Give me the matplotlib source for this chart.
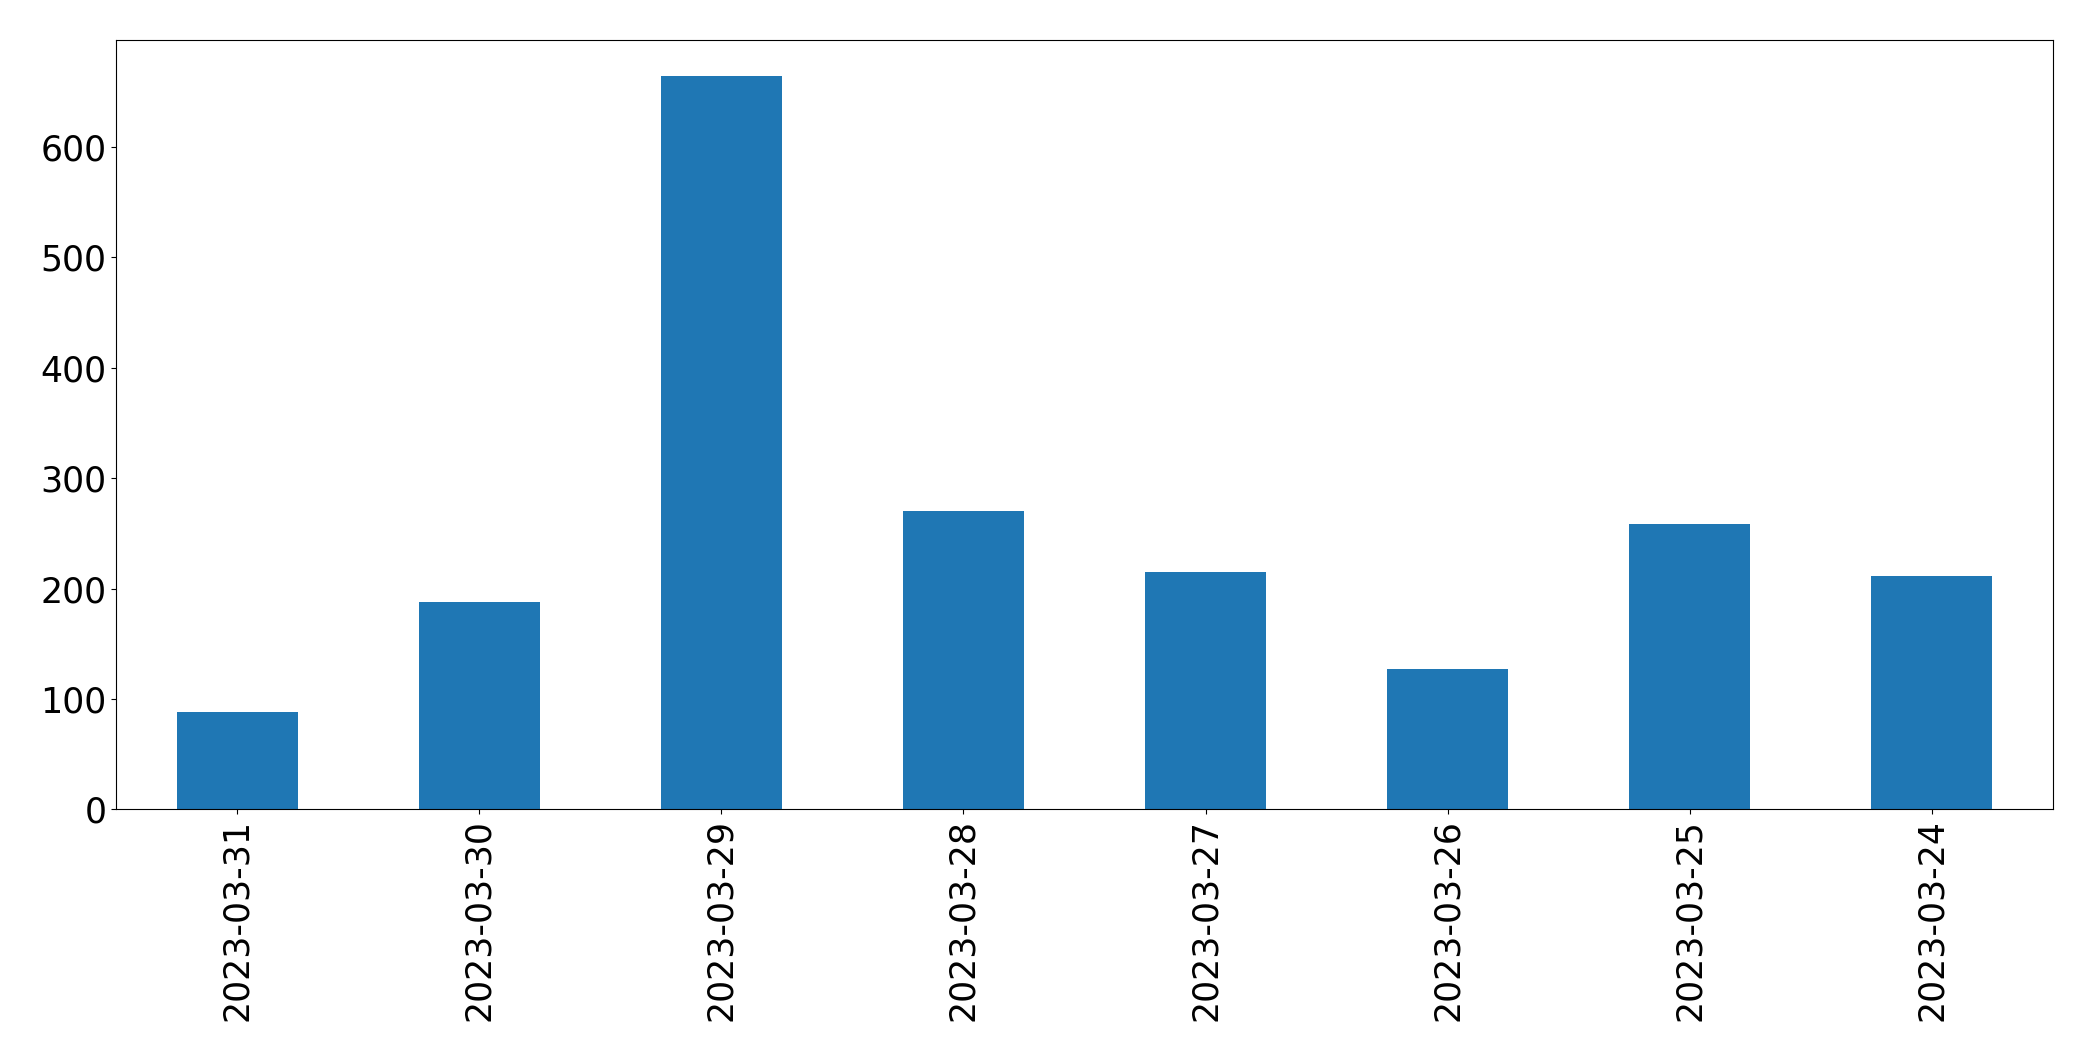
import matplotlib
matplotlib.use("Agg")
import matplotlib.pyplot as plt

dates = ["2023-03-31", "2023-03-30", "2023-03-29", "2023-03-28",
         "2023-03-27", "2023-03-26", "2023-03-25", "2023-03-24"]
counts = [88, 188, 664, 270, 215, 127, 258, 211]

fig = plt.figure(figsize=(20.93, 10.61), dpi=100)
ax = fig.add_axes([116 / 2093, 1 - 809.3 / 1061, (2053 - 116) / 2093, (809.3 - 39.6) / 1061])
x = list(range(len(dates)))
ax.bar(x, counts, width=0.5, color="#1f77b4")
ax.set_xlim(-0.5, len(dates) - 0.5)
ax.set_ylim(0, max(counts) * 1.05)
ax.set_xticks(x)
ax.set_xticklabels(dates, rotation=90, fontsize=25)
ax.tick_params(axis="y", labelsize=25)
fig.savefig("out.png", dpi=100)
